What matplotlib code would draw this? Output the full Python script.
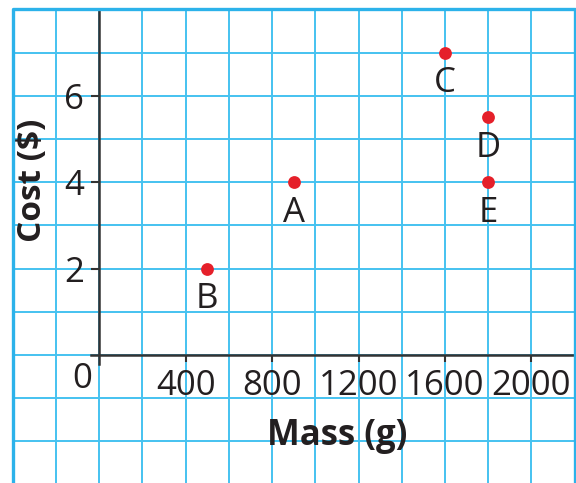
import numpy as np
import matplotlib
matplotlib.use("Agg")
import matplotlib.pyplot as plt
from matplotlib.ticker import FixedLocator, MultipleLocator

plt.rcParams['font.family'] = ['Open Sans', 'DejaVu Sans']

# data
labels = ['A', 'B', 'C', 'D', 'E']
mass = [900, 500, 1600, 1800, 1800]
cost = [4, 2, 7, 5.5, 4]
xticks = [400, 800, 1200, 1600, 2000]
yticks = [2, 4, 6]

GRID = '#45c2f0'
BORDER = '#2cb2ea'
INK = '#231f20'
RED = '#e5202a'

fig = plt.figure(figsize=(5.76, 4.83), dpi=100)
W, H = 576, 483
ax = fig.add_axes([12.7 / W, 0, (574.7 - 12.7) / W, (H - 9.3) / H])
ax.set_xlim(-400, 2200)
ax.set_ylim(8 - (H - 9.3) / 43.2, 8)

# grid paper
ax.xaxis.set_major_locator(FixedLocator(xticks))
ax.xaxis.set_minor_locator(MultipleLocator(200))
ax.yaxis.set_major_locator(FixedLocator(yticks))
ax.yaxis.set_minor_locator(MultipleLocator(1))
ax.grid(which='both', color=GRID, linewidth=1.4)
ax.set_axisbelow(True)
ax.tick_params(which='minor', length=0)

# math axes through the origin
for side in ['top', 'right']:
    ax.spines[side].set_visible(False)
ax.spines['left'].set_position(('data', 0))
ax.spines['bottom'].set_position(('data', 0))
ax.spines['left'].set_bounds(-0.2, 8)
ax.spines['bottom'].set_bounds(-40, 2200)
for side in ['left', 'bottom']:
    ax.spines[side].set_color('#333333')
    ax.spines[side].set_linewidth(1.8)

ax.tick_params(axis='x', which='major', direction='out', length=5, width=1.5,
               color='#333333', pad=5, labelsize=25, labelcolor=INK)
ax.tick_params(axis='y', which='major', direction='out', length=6, width=1.5,
               color='#333333', pad=5, labelsize=25, labelcolor=INK)

# border of the grid paper (no bottom edge)
ax.plot([0, 0, 1, 1], [0, 1, 1, 0], transform=ax.transAxes, color=BORDER,
        linewidth=2.4, clip_on=False, zorder=5)

ax.text(-80, -0.55, '0', fontsize=25, color=INK, ha='center', va='center')

ax.scatter(mass, cost, s=85, color=RED, zorder=4, linewidths=0)
for lab, x, y in zip(labels, mass, cost):
    ax.annotate(lab, (x, y), xytext=(0, -22), textcoords='offset points',
                ha='center', va='center', fontsize=25, color=INK)

ax.text(-308, 4.05, 'Cost ($)', rotation=90, fontsize=24, fontweight='bold',
        color=INK, ha='center', va='center')
ax.text(1099, -1.87, 'Mass (g)', fontsize=25, fontweight='bold',
        color=INK, ha='center', va='center')

fig.savefig('out.png', dpi=100)
